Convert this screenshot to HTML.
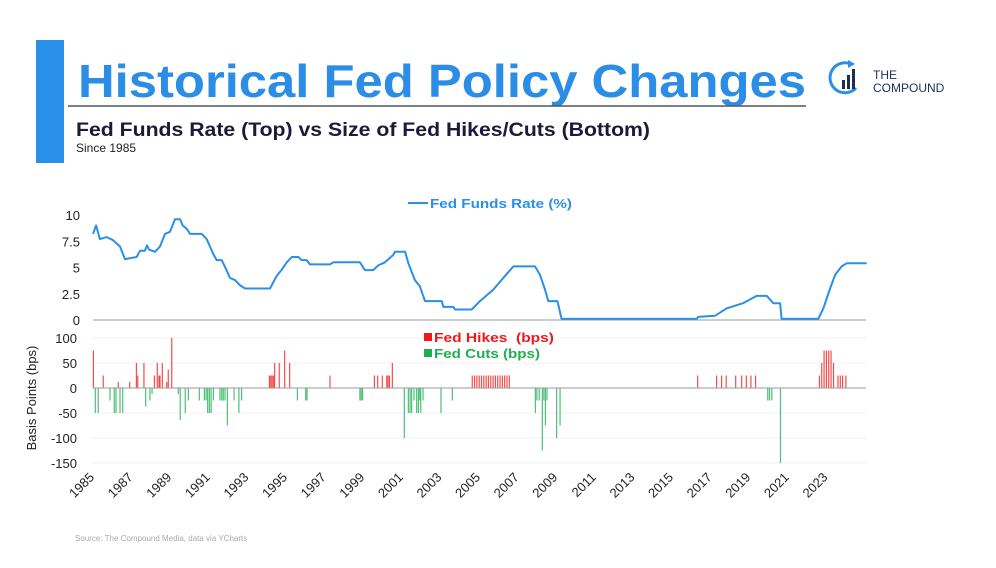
<!DOCTYPE html>
<html><head><meta charset="utf-8"><style>
html,body{margin:0;padding:0;background:#fff;width:996px;height:568px;overflow:hidden}
svg{display:block;font-family:"Liberation Sans",sans-serif}
</style></head><body>
<svg id="chart" width="996" height="568" viewBox="0 0 996 568">
  <g id="topg"></g><g id="botg"></g><g id="xaxg"></g>
  <rect x="36" y="40" width="28" height="123" fill="#2a8fe8"/>
  <text x="78" y="97" font-size="46" font-weight="bold" fill="#2b8de6" textLength="728" lengthAdjust="spacingAndGlyphs">Historical Fed Policy Changes</text>
  <line x1="68" y1="106" x2="806" y2="106" stroke="#555" stroke-width="1.5"/>
  <text x="76" y="136" font-size="19" font-weight="bold" fill="#1a1a3a" textLength="574" lengthAdjust="spacingAndGlyphs">Fed Funds Rate (Top) vs Size of Fed Hikes/Cuts (Bottom)</text>
  <text x="76" y="152" font-size="12" fill="#222">Since 1985</text>
  <g>
    <path d="M851 64 A15 15 0 1 0 856 88" fill="none" stroke="#2a8fe8" stroke-width="3"/>
    <path d="M848 60 L855 64 L848 68 Z" fill="#2a8fe8"/>
    <rect x="842" y="80" width="3" height="9" fill="#1b2f5a"/>
    <rect x="847" y="75" width="3" height="14" fill="#1b2f5a"/>
    <rect x="852" y="69" width="3" height="20" fill="#1b2f5a"/>
    <text x="873" y="79" font-size="12" fill="#1b2f5a">THE</text>
    <text x="873" y="92" font-size="12" fill="#1b2f5a">COMPOUND</text>
  </g>
  <line x1="408" y1="203" x2="428" y2="203" stroke="#2a8fe8" stroke-width="2"/>
  <text x="430" y="208" font-size="13" font-weight="bold" fill="#2a8fe8" textLength="142" lengthAdjust="spacingAndGlyphs">Fed Funds Rate (%)</text>
  <rect x="430" y="330" width="128" height="32" fill="#fff"/>
  <rect x="424" y="333" width="8" height="8" fill="#f01818"/>
  <text x="434" y="342" font-size="13" font-weight="bold" fill="#f01818" textLength="120" lengthAdjust="spacingAndGlyphs" style="white-space:pre">Fed Hikes  (bps)</text>
  <rect x="424" y="349" width="8" height="8" fill="#1fae50"/>
  <text x="434" y="358" font-size="13" font-weight="bold" fill="#1fae50" textLength="106" lengthAdjust="spacingAndGlyphs">Fed Cuts (bps)</text>
  <text x="36" y="398" font-size="13" fill="#222" text-anchor="middle" transform="rotate(-90 36 398)">Basis Points (bps)</text>
  <text x="75" y="541" font-size="8" fill="#aaa">Source: The Compound Media, data via YCharts</text>
</svg>
<script>
const rateYears=[1985.0,1985.16,1985.36,1985.71,1986.04,1986.40,1986.66,1987.26,1987.44,1987.69,1987.80,1987.90,1988.21,1988.47,1988.73,1988.99,1989.25,1989.51,1989.65,1989.85,1990.03,1990.63,1990.89,1991.23,1991.41,1991.67,1991.93,1992.10,1992.36,1992.62,1992.88,1994.17,1994.52,1994.78,1995.04,1995.30,1995.64,1995.81,1996.07,1996.24,1997.28,1997.45,1998.83,1999.09,1999.52,1999.78,2000.13,2000.56,2000.65,2001.17,2001.34,2001.68,2001.94,2002.20,2003.07,2003.15,2003.67,2003.76,2004.62,2005.05,2005.74,2006.44,2006.78,2007.90,2008.16,2008.42,2008.59,2009.06,2009.28,2016.28,2016.36,2017.23,2017.83,2018.68,2019.39,2019.91,2020.25,2020.60,2020.68,2022.58,2022.84,2023.19,2023.45,2023.79,2024.05,2025.09];
const rateValues=[8.2,9.0,7.7,7.9,7.6,7.0,5.8,6.0,6.6,6.6,7.1,6.7,6.5,7.0,8.2,8.4,9.6,9.6,9.0,8.7,8.2,8.2,7.7,6.3,5.7,5.7,4.7,4.0,3.8,3.3,3.0,3.0,4.2,4.8,5.5,6.0,6.0,5.7,5.7,5.3,5.3,5.5,5.5,4.75,4.75,5.2,5.5,6.2,6.5,6.5,5.4,3.8,3.2,1.8,1.8,1.25,1.25,1.0,1.0,1.8,2.9,4.4,5.1,5.1,4.3,2.9,1.8,1.8,0.1,0.1,0.3,0.4,1.1,1.6,2.3,2.3,1.6,1.6,0.1,0.1,1.1,3.0,4.3,5.1,5.4,5.4];
const rateTicks=["0","2.5","5","7.5","10"];
const rateTickVals=[0,2.5,5,7.5,10];
const chgYears=[1985.02,1985.12,1985.27,1985.53,1985.88,1986.10,1986.19,1986.31,1986.40,1986.54,1986.90,1987.25,1987.32,1987.64,1987.73,1987.95,1988.06,1988.18,1988.33,1988.42,1988.47,1988.59,1988.82,1988.90,1989.08,1989.42,1989.52,1989.78,1989.94,1990.51,1990.77,1990.86,1990.94,1991.03,1991.12,1991.24,1991.58,1991.67,1991.75,1991.84,1991.96,1992.31,1992.56,1992.70,1994.14,1994.21,1994.28,1994.35,1994.41,1994.65,1994.93,1995.19,1995.59,1996.02,1996.09,1997.28,1998.83,1998.90,1998.97,1999.58,1999.75,1999.99,2000.22,2000.29,2000.36,2000.51,2001.13,2001.34,2001.43,2001.51,2001.63,2001.77,2001.86,2001.93,2001.98,2002.10,2003.03,2003.62,2004.65,2004.77,2004.89,2005.01,2005.13,2005.25,2005.37,2005.49,2005.61,2005.73,2005.85,2005.97,2006.09,2006.21,2006.33,2006.45,2006.57,2007.92,2008.00,2008.12,2008.28,2008.36,2008.44,2008.52,2009.02,2009.20,2016.33,2017.31,2017.57,2017.81,2018.30,2018.61,2018.85,2019.09,2019.33,2019.96,2020.05,2020.17,2020.62,2022.64,2022.76,2022.88,2023.00,2023.12,2023.24,2023.37,2023.60,2023.72,2023.84,2024.01];
const chgBps=[75,-50,-50,25,-25,-50,-50,12,-50,-50,12,50,25,50,-37,-25,-12,25,50,25,25,50,12,37,100,-12,-64,-50,-25,-25,-25,-25,-50,-50,-50,-25,-25,-25,-25,-25,-75,-25,-50,-25,25,25,25,25,50,50,75,50,-25,-25,-25,25,-25,-25,-25,25,25,25,25,25,25,50,-100,-50,-50,-50,-25,-50,-50,-25,-50,-25,-50,-25,25,25,25,25,25,25,25,25,25,25,25,25,25,25,25,25,25,-50,-25,-25,-125,-25,-75,-25,-100,-75,25,25,25,25,25,25,25,25,25,-25,-25,-25,-150,25,50,75,75,75,75,50,25,25,25,25];
const bpsTicks=["-150","-100","-50","0","50","100"];
const bpsTickVals=[-150,-100,-50,0,50,100];
const yearLabels=["1985","1987","1989","1991","1993","1995","1997","1999","2001","2003","2005","2007","2009","2011","2013","2015","2017","2019","2021","2023"];

const NS="http://www.w3.org/2000/svg";
const xS=y=>93+(y-1985)*19.3;
const yTop=v=>320-v*10.5;
const yBot=v=>388-v*0.5;
function mk(t,a,p){const e=document.createElementNS(NS,t);for(const k in a)e.setAttribute(k,a[k]);p.appendChild(e);return e;}
const topG=document.getElementById('topg'),botG=document.getElementById('botg'),xaxG=document.getElementById('xaxg');

rateTickVals.forEach((v,i)=>{
  const t=mk('text',{x:80,y:yTop(v)+5,'font-size':13,fill:'#222','text-anchor':'end'},topG);
  t.textContent=rateTicks[i];
  
  
});
const ax=mk('line',{x1:93,x2:866,y1:320,y2:320,stroke:'#bbb','stroke-width':1.5},topG);


const pts=rateYears.map((y,i)=>xS(y).toFixed(1)+','+yTop(rateValues[i]).toFixed(1)).join(' ');
const pl=mk('polyline',{points:pts,fill:'none',stroke:'#2a8fe8','stroke-width':2,'stroke-linejoin':'round'},topG);



bpsTickVals.forEach((v,i)=>{
  if(v!==0){const g=mk('line',{x1:93,x2:866,y1:yBot(v),y2:yBot(v),stroke:'#f0f0f0','stroke-width':1},botG);
  
  }
  const t=mk('text',{x:77,y:yBot(v)+5,'font-size':13,fill:'#222','text-anchor':'end'},botG);
  t.textContent=bpsTicks[i];
  
  
});
chgYears.forEach((y,i)=>{
  const v=chgBps[i];const x=xS(y);
  const r=mk('rect',{x:x-0.6,width:1.2,y:Math.min(yBot(v),388),height:Math.abs(yBot(v)-388),fill:v>0?'#f02020':'#22b055',opacity:0.8},botG);
  
  
});
const z=mk('line',{x1:93,x2:866,y1:388,y2:388,stroke:'#999','stroke-width':1},botG);



yearLabels.forEach(l=>{
  const x=xS(+l)+2,y=478;
  const t=mk('text',{x:x,y:y,'font-size':13,fill:'#222','text-anchor':'end',transform:`rotate(-45 ${x} ${y})`},xaxG);
  t.textContent=l;
  
  
});
</script>
</body></html>
